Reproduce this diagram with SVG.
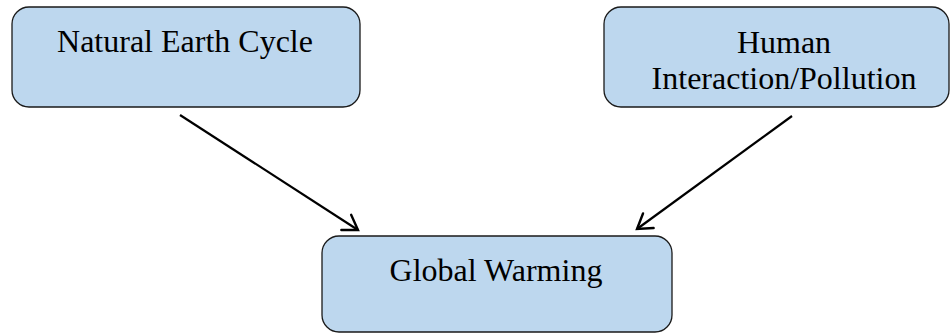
<svg xmlns="http://www.w3.org/2000/svg" width="951" height="333" viewBox="0 0 951 333">
  <style>
    .box { fill: #bdd7ee; stroke: #1a1a1a; stroke-width: 1.3; }
    .label { font-family: "Liberation Serif", "Times New Roman", serif; font-size: 32px; fill: #000; text-anchor: middle; }
    .edge { stroke: #000; stroke-width: 2.2; fill: none; marker-end: url(#head); }
  </style>
  <defs>
    <marker id="head" markerWidth="20" markerHeight="22" refX="16" refY="11" orient="auto" markerUnits="userSpaceOnUse">
      <path d="M2,2 L16,11 L2,20" fill="none" stroke="#000" stroke-width="2.4" stroke-linecap="round" stroke-linejoin="miter"/>
    </marker>
  </defs>
  <rect width="951" height="333" fill="#fff"/>

  <g id="natural-earth-cycle">
    <rect class="box" x="12" y="7" width="348" height="100" rx="17" ry="17"/>
    <text class="label" x="185" y="52">Natural Earth Cycle</text>
  </g>

  <g id="human-interaction">
    <rect class="box" x="604" y="7" width="345" height="100" rx="17" ry="17"/>
    <text class="label" x="784" y="53">Human</text>
    <text class="label" x="784" y="89">Interaction/Pollution</text>
  </g>

  <g id="global-warming">
    <rect class="box" x="322" y="236" width="350" height="96" rx="17" ry="17"/>
    <text class="label" x="496" y="281">Global Warming</text>
  </g>

  <g id="connectors">
    <line class="edge" x1="180" y1="115" x2="358" y2="230"/>
    <line class="edge" x1="792" y1="116" x2="637" y2="229"/>
  </g>
</svg>
